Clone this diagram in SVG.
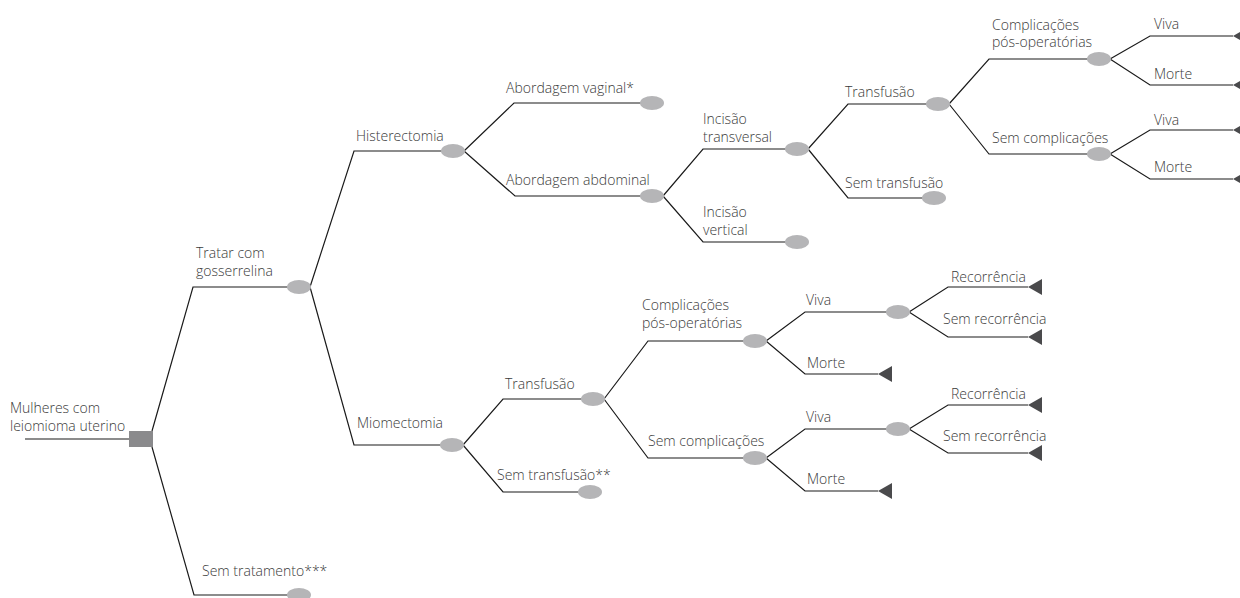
<svg xmlns="http://www.w3.org/2000/svg" width="1240" height="598" viewBox="0 0 1240 598">
<style>
.e{fill:none;stroke:#1a1a1a;stroke-width:1.2}
.c{fill:#b5b5b7}
.t{fill:#4a4a4c}
.d{fill:#8a8a8c}
text{font-family:"Open Sans","Noto Sans",sans-serif;font-weight:300;font-size:14px;fill:#3a3a3a}
</style>
<defs>
<ellipse id="ch" cx="0" cy="0" rx="12" ry="7" class="c"/>
<polygon id="tr" points="0,0 14,-8 14,8" class="t"/>
</defs>
<g id="connectors">
<path class="e" d="M25,439 H130"/>
<path class="e" d="M152,431 L193,287 H299"/>
<path class="e" d="M152,447 L194,595 H299"/>
<path class="e" d="M310,287 L354,151 H453"/>
<path class="e" d="M310,287 L354,445 H452"/>
<path class="e" d="M464,151 L514,103 H652"/>
<path class="e" d="M464,151 L515,196 H652"/>
<path class="e" d="M663,196 L703,149 H797"/>
<path class="e" d="M663,196 L703,242 H797"/>
<path class="e" d="M808,149 L848,104 H938"/>
<path class="e" d="M808,149 L848,198 H934"/>
<path class="e" d="M949,104 L989,59 H1099"/>
<path class="e" d="M949,104 L989,154 H1099"/>
<path class="e" d="M1110,59 L1150,36 H1233"/>
<path class="e" d="M1110,59 L1150,85 H1233"/>
<path class="e" d="M1110,154 L1150,130 H1233"/>
<path class="e" d="M1110,154 L1150,179 H1233"/>
<path class="e" d="M463,445 L503,399 H593"/>
<path class="e" d="M463,445 L503,492 H590"/>
<path class="e" d="M604,399 L648,341 H755"/>
<path class="e" d="M604,399 L648,458 H755"/>
<path class="e" d="M766,341 L805,312 H898"/>
<path class="e" d="M766,341 L805,374 H878"/>
<path class="e" d="M766,458 L805,429 H898"/>
<path class="e" d="M766,458 L805,491 H878"/>
<path class="e" d="M909,312 L948,287 H1028"/>
<path class="e" d="M909,312 L948,337 H1028"/>
<path class="e" d="M909,429 L948,405 H1028"/>
<path class="e" d="M909,429 L948,453 H1028"/>
</g>
<g id="root"><rect x="129" y="431" width="24" height="16" class="d"/><text x="10" y="413">Mulheres com</text><text x="10" y="431">leiomioma uterino</text></g>
<g id="n-tratar"><use href="#ch" x="299" y="287"/><text x="196" y="258">Tratar com</text><text x="196" y="276">gosserrelina</text></g>
<g id="n-semtrat"><use href="#ch" x="299" y="595"/><text x="202" y="576">Sem tratamento***</text></g>
<g id="n-hist"><use href="#ch" x="453" y="151"/><text x="356" y="141">Histerectomia</text></g>
<g id="n-miom"><use href="#ch" x="452" y="445"/><text x="357" y="428">Miomectomia</text></g>
<g id="n-vag"><use href="#ch" x="652" y="103"/><text x="506" y="93">Abordagem vaginal*</text></g>
<g id="n-abd"><use href="#ch" x="652" y="196"/><text x="506" y="185">Abordagem abdominal</text></g>
<g id="n-itrans"><use href="#ch" x="797" y="149"/><text x="703" y="124">Incisão</text><text x="703" y="142">transversal</text></g>
<g id="n-ivert"><use href="#ch" x="797" y="242"/><text x="703" y="217">Incisão</text><text x="703" y="235">vertical</text></g>
<g id="n-h-transf"><use href="#ch" x="938" y="104"/><text x="845" y="97">Transfusão</text></g>
<g id="n-h-semtransf"><use href="#ch" x="934" y="198"/><text x="845" y="188">Sem transfusão</text></g>
<g id="n-h-compl"><use href="#ch" x="1099" y="59"/><text x="992" y="30">Complicações</text><text x="992" y="47">pós-operatórias</text></g>
<g id="n-h-semcompl"><use href="#ch" x="1099" y="154"/><text x="992" y="143">Sem complicações</text></g>
<g id="n-h-viva1"><use href="#tr" x="1233" y="36"/><text x="1154" y="29">Viva</text></g>
<g id="n-h-morte1"><use href="#tr" x="1233" y="85"/><text x="1154" y="79">Morte</text></g>
<g id="n-h-viva2"><use href="#tr" x="1233" y="130"/><text x="1154" y="125">Viva</text></g>
<g id="n-h-morte2"><use href="#tr" x="1233" y="179"/><text x="1154" y="172">Morte</text></g>
<g id="n-m-transf"><use href="#ch" x="593" y="399"/><text x="505" y="389">Transfusão</text></g>
<g id="n-m-semtransf"><use href="#ch" x="590" y="492"/><text x="497" y="480">Sem transfusão**</text></g>
<g id="n-m-compl"><use href="#ch" x="755" y="341"/><text x="642" y="310">Complicações</text><text x="642" y="328">pós-operatórias</text></g>
<g id="n-m-semcompl"><use href="#ch" x="755" y="458"/><text x="648" y="446">Sem complicações</text></g>
<g id="n-m-viva1"><use href="#ch" x="898" y="312"/><text x="806" y="305">Viva</text></g>
<g id="n-m-morte1"><use href="#tr" x="878" y="374"/><text x="807" y="368">Morte</text></g>
<g id="n-m-viva2"><use href="#ch" x="898" y="429"/><text x="806" y="422">Viva</text></g>
<g id="n-m-morte2"><use href="#tr" x="878" y="491"/><text x="807" y="484">Morte</text></g>
<g id="n-rec1"><use href="#tr" x="1028" y="287"/><text x="951" y="282">Recorrência</text></g>
<g id="n-semrec1"><use href="#tr" x="1028" y="337"/><text x="943" y="324">Sem recorrência</text></g>
<g id="n-rec2"><use href="#tr" x="1028" y="405"/><text x="951" y="399">Recorrência</text></g>
<g id="n-semrec2"><use href="#tr" x="1028" y="453"/><text x="943" y="441">Sem recorrência</text></g>
</svg>
